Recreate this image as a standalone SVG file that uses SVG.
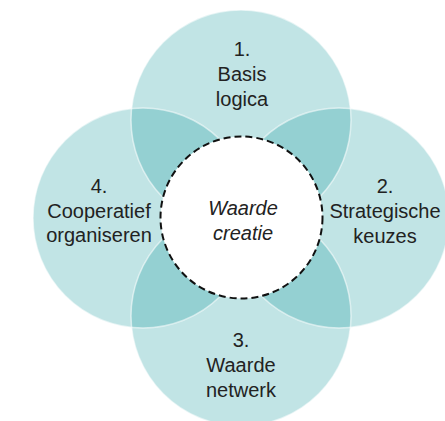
<svg xmlns="http://www.w3.org/2000/svg" width="445" height="421" viewBox="0 0 445 421">
<style>
.c{fill:rgb(29,156,160);fill-opacity:0.274}
.e{fill:none;stroke:#ffffff;stroke-opacity:0.55;stroke-width:1.5}
text{font-family:"Liberation Sans",Arial,sans-serif;font-size:20px;fill:#222;text-anchor:middle}
.i{font-style:italic}
</style>
<rect width="445" height="421" fill="#fff"/>
<g id="fills">
<circle class="c" cx="241" cy="120" r="110"/>
<circle class="c" cx="339" cy="218" r="110"/>
<circle class="c" cx="241" cy="316" r="110"/>
<circle class="c" cx="143" cy="218" r="110"/>
</g>
<g id="edges">
<circle class="e" cx="241" cy="120" r="110"/>
<circle class="e" cx="339" cy="218" r="110"/>
<circle class="e" cx="241" cy="316" r="110"/>
<circle class="e" cx="143" cy="218" r="110"/>
</g>
<g id="n1"><text x="242" y="56">1.</text><text x="242" y="81">Basis</text><text x="242" y="106">logica</text></g>
<g id="n2"><text x="385" y="193">2.</text><text x="385" y="218">Strategische</text><text x="385" y="243">keuzes</text></g>
<g id="n3"><text x="241" y="347">3.</text><text x="241" y="372">Waarde</text><text x="241" y="397">netwerk</text></g>
<g id="n4"><text x="99" y="193">4.</text><text x="99" y="218">Cooperatief</text><text x="99" y="242">organiseren</text></g>
<g id="center">
<circle cx="241.5" cy="217.5" r="81" fill="#fff" stroke="#111" stroke-width="2" stroke-dasharray="7 4"/>
<text class="i" x="243" y="215">Waarde</text><text class="i" x="243" y="240">creatie</text>
</g>
</svg>
